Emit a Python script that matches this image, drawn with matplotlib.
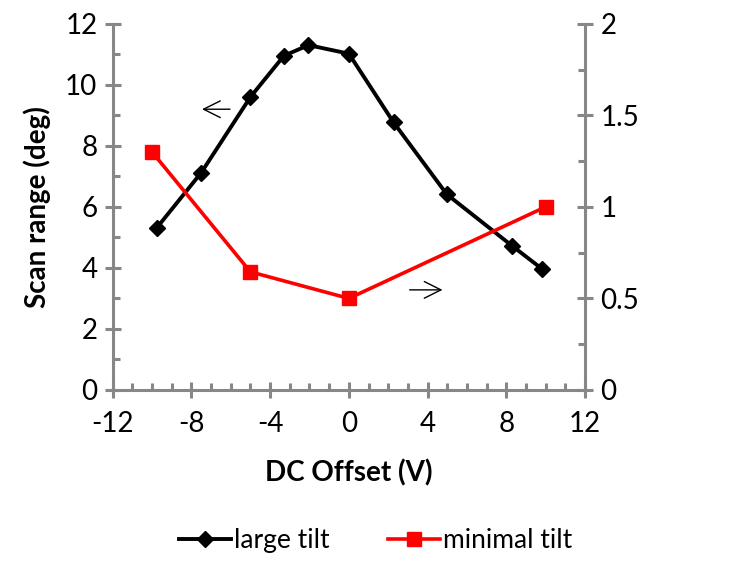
import matplotlib
matplotlib.use('Agg')
import matplotlib.pyplot as plt
from matplotlib.ticker import MultipleLocator

# data
large_x = [-9.75, -7.5, -5.0, -3.3, -2.05, 0.0, 2.27, 4.98, 8.3, 9.83]
large_y = [5.32, 7.12, 9.6, 10.95, 11.3, 11.02, 8.77, 6.41, 4.72, 3.96]
minimal_x = [-10, -5, 0, 10]
minimal_y = [1.3, 0.645, 0.5, 1.0]

plt.rcParams['font.family'] = ['Lato', 'DejaVu Sans']
plt.rcParams['axes.unicode_minus'] = False
grey = '#878787'
fs = 20

fig = plt.figure(figsize=(7.51, 5.66), dpi=100)
ax = fig.add_axes([0.150, 0.311, 0.629, 0.647])
ax2 = ax.twinx()

ax.plot(large_x, large_y, color='black', lw=2.8, marker='D', ms=8.5, label='large tilt')
ax2.plot(minimal_x, minimal_y, color='#ff0000', lw=2.6, marker='s', ms=10, label='minimal tilt')

ax.set_xlim(-12, 12)
ax.set_ylim(0, 12)
ax2.set_ylim(0, 2)

ax.xaxis.set_major_locator(MultipleLocator(4))
ax.xaxis.set_minor_locator(MultipleLocator(1))
ax.yaxis.set_major_locator(MultipleLocator(2))
ax.yaxis.set_minor_locator(MultipleLocator(1))
ax2.yaxis.set_minor_locator(MultipleLocator(0.25))
ax2.set_yticks([0, 0.5, 1, 1.5, 2])
ax2.set_yticklabels(['0', '0.5', '1', '1.5', '2'])

for a in (ax, ax2):
    for s in a.spines.values():
        s.set_color(grey)
        s.set_linewidth(2.2)
    a.spines['top'].set_visible(False)
ax.spines['right'].set_visible(False)
ax2.spines['left'].set_visible(False)
ax2.spines['bottom'].set_visible(False)

for a in (ax, ax2):
    a.tick_params(which='major', direction='inout', length=12, width=2.2, color=grey,
                  labelsize=fs, pad=5)
    a.tick_params(which='minor', direction='in', length=5, width=2.2, color=grey)
ax.tick_params(axis='x', pad=9)

ax.set_xlabel('DC Offset (V)', fontsize=fs, fontweight='bold', labelpad=16)
ax.set_ylabel('Scan range (deg)', fontsize=fs, fontweight='bold', labelpad=10)

# arrows indicating which axis each curve belongs to
ax.annotate('', xy=(-7.6, 9.2), xytext=(-5.9, 9.2),
            arrowprops=dict(arrowstyle='->', color='black', lw=1.0, mutation_scale=30))
ax.annotate('', xy=(4.9, 3.28), xytext=(2.95, 3.28),
            arrowprops=dict(arrowstyle='->', color='black', lw=1.0, mutation_scale=30))

h1, l1 = ax.get_legend_handles_labels()
h2, l2 = ax2.get_legend_handles_labels()
fig.legend(h1 + h2, l1 + l2, loc='center', bbox_to_anchor=(0.5, 0.045), ncol=2,
           frameon=False, fontsize=19, handlelength=2.0, handletextpad=0.1,
           columnspacing=2.2)

fig.savefig('out.png', dpi=100)
